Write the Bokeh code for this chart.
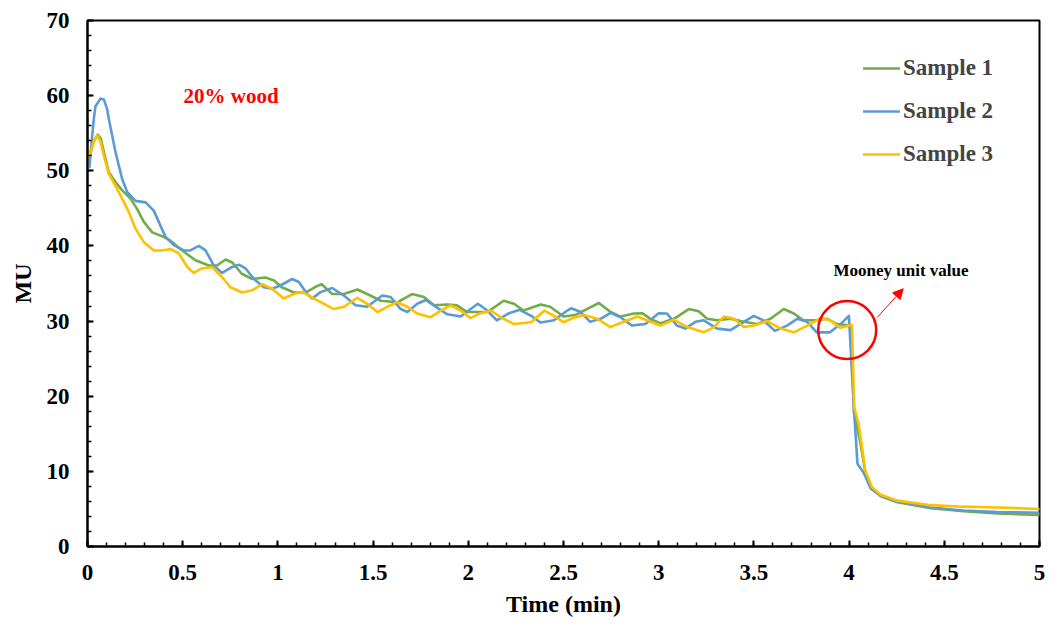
from bokeh.plotting import figure
from bokeh.models import (Range1d, SingleIntervalTicker, NumeralTickFormatter, Legend,
                          LegendItem, Label, Arrow, NormalHead)
from bokeh.embed import file_html
from bokeh.resources import INLINE

# ---------------- data ----------------
t1 = [0.01, 0.035, 0.054, 0.07, 0.086, 0.112, 0.147, 0.182, 0.226, 0.261, 0.296, 0.34, 0.392, 0.436,
      0.497, 0.567, 0.637, 0.68, 0.725, 0.76, 0.81, 0.865, 0.935, 0.98, 1.02, 1.085,
      1.145, 1.20, 1.23, 1.285, 1.346, 1.417, 1.469, 1.54, 1.627, 1.705, 1.767, 1.82,
      1.89, 1.94, 1.994, 2.10, 2.186, 2.24, 2.29, 2.38, 2.43, 2.50, 2.56, 2.607, 2.686,
      2.747, 2.80, 2.87, 2.913, 2.957, 3.01, 3.08, 3.158, 3.21, 3.254, 3.307, 3.377,
      3.447, 3.517, 3.587, 3.657, 3.71, 3.76, 3.83, 3.885, 3.937, 4.007, 4.026, 4.06,
      4.085, 4.12, 4.166, 4.254, 4.43, 4.60, 4.78, 5.0]
s1 = [52.0, 54.0, 54.8, 54.3, 52.5, 49.8, 48.5, 47.4, 46.3, 44.9, 43.2, 41.8, 41.3, 40.7,
      39.4, 38.1, 37.4, 37.4, 38.2, 37.8, 36.3, 35.6, 35.8, 35.4, 34.5, 33.8,
      33.8, 34.6, 34.9, 33.6, 33.6, 34.2, 33.6, 32.7, 32.5, 33.6, 33.2, 32.1,
      32.2, 32.1, 31.2, 31.2, 32.7, 32.3, 31.4, 32.2, 31.9, 30.6, 30.8, 31.4, 32.4,
      31.2, 30.6, 31.0, 31.05, 30.3, 29.7, 30.3, 31.6, 31.3, 30.3, 30.1, 30.3,
      29.9, 29.6, 30.3, 31.6, 31.0, 30.1, 30.1, 30.3, 29.6, 29.4, 17.7, 13.7,
      9.9, 7.7, 6.7, 5.9, 5.1, 4.7, 4.4, 4.2]

t2 = [0.01, 0.033, 0.042, 0.068, 0.086, 0.103, 0.112, 0.147, 0.182, 0.208, 0.252, 0.305, 0.348, 0.383,
      0.41, 0.453, 0.506, 0.54, 0.585, 0.62, 0.663, 0.707, 0.76, 0.795, 0.83, 0.874,
      0.926, 0.97, 1.01, 1.075, 1.11, 1.154, 1.18, 1.224, 1.285, 1.346, 1.408, 1.469,
      1.548, 1.592, 1.645, 1.68, 1.732, 1.776, 1.83, 1.89, 1.96, 2.05, 2.10, 2.15,
      2.21, 2.27, 2.33, 2.38, 2.45, 2.52, 2.54, 2.59, 2.64, 2.695, 2.747, 2.80, 2.86,
      2.93, 3.0, 3.044, 3.096, 3.14, 3.193, 3.237, 3.307, 3.377, 3.447, 3.5, 3.55,
      3.61, 3.674, 3.727, 3.78, 3.83, 3.90, 3.955, 3.999, 4.026, 4.044, 4.079, 4.114,
      4.166, 4.254, 4.43, 4.60, 4.78, 5.0]
s2 = [50.5, 56.9, 58.6, 59.6, 59.5, 58.2, 56.9, 52.5, 48.9, 47.2, 46.0, 45.8, 44.7, 42.7,
      41.2, 40.1, 39.4, 39.4, 40.0, 39.4, 37.4, 36.4, 37.2, 37.5, 37.0, 35.6,
      34.5, 34.3, 34.7, 35.6, 35.2, 33.6, 33.0, 33.85, 34.4, 33.4, 32.1, 31.9,
      33.4, 33.2, 31.6, 31.2, 32.3, 32.8, 31.9, 30.9, 30.6, 32.3, 31.4, 30.1,
      31.0, 31.5, 30.7, 29.8, 30.1, 31.4, 31.7, 31.2, 29.9, 30.3, 31.1, 30.5, 29.4,
      29.6, 31.05, 31.0, 29.4, 29.0, 29.9, 30.1, 29.0, 28.8, 29.9, 30.7, 30.1,
      28.7, 29.4, 30.3, 29.9, 28.5, 28.5, 29.6, 30.7, 18.1, 11.0, 9.7, 7.7,
      6.8, 6.0, 5.2, 4.8, 4.6, 4.5]

t3 = [0.01, 0.035, 0.051, 0.068, 0.086, 0.112, 0.147, 0.182, 0.217, 0.252, 0.296, 0.348, 0.392, 0.436,
      0.48, 0.524, 0.558, 0.60, 0.655, 0.698, 0.751, 0.812, 0.865, 0.917, 0.97, 1.03,
      1.083, 1.128, 1.19, 1.294, 1.346, 1.417, 1.469, 1.522, 1.574, 1.627, 1.68, 1.732,
      1.80, 1.855, 1.907, 1.96, 2.01, 2.066, 2.12, 2.17, 2.24, 2.33, 2.40, 2.45, 2.50,
      2.55, 2.607, 2.677, 2.747, 2.817, 2.887, 2.957, 3.01, 3.08, 3.15, 3.237, 3.29,
      3.342, 3.395, 3.447, 3.5, 3.57, 3.64, 3.71, 3.78, 3.85, 3.90, 3.955, 4.015,
      4.027, 4.05, 4.068, 4.085, 4.12, 4.166, 4.254, 4.43, 4.60, 4.78, 5.0]
s3 = [52.0, 54.0, 54.7, 53.9, 52.0, 49.6, 48.0, 46.3, 44.5, 42.3, 40.5, 39.4, 39.4, 39.6,
      39.0, 37.2, 36.4, 37.0, 37.2, 36.1, 34.5, 33.8, 34.1, 34.9, 34.3, 33.0,
      33.6, 33.9, 33.0, 31.6, 31.9, 33.1, 32.3, 31.2, 31.9, 32.5, 31.9, 31.0,
      30.5, 31.4, 32.1, 31.4, 30.4, 31.05, 31.4, 30.5, 29.6, 29.85, 31.4, 30.7, 29.85,
      30.4, 30.8, 30.3, 29.2, 29.9, 30.6, 29.9, 29.4, 30.2, 29.2, 28.5, 29.2,
      30.6, 30.3, 29.2, 29.4, 30.0, 29.0, 28.5, 29.4, 30.4, 30.1, 29.1, 29.5,
      18.5, 16.3, 13.2, 10.1, 7.9, 6.9, 6.1, 5.5, 5.3, 5.2, 5.0]

series_names = ["Sample 1", "Sample 2", "Sample 3"]
series_colors = ["#70AD47", "#5B9BD5", "#FFC000"]
x_ticks_interval = 0.5
y_ticks_interval = 10

# annotation anchors (data units)
circle_x, circle_y = 3.99, 28.8
arrow_start = (4.148, 30.5)
arrow_end = (4.284, 34.3)
mooney_label_pos = (3.918, 36.7)
wood_label_pos = (0.504, 59.9)

FONT = "Liberation Serif"

p = figure(width=1053, height=630, output_backend="svg", toolbar_location=None,
           x_range=Range1d(0, 5), y_range=Range1d(0, 70),
           min_border_left=87, min_border_right=14, min_border_top=20, min_border_bottom=84)
p.background_fill_color = "white"
p.border_fill_color = "white"
p.xgrid.visible = False
p.ygrid.visible = False
p.outline_line_color = "black"
p.outline_line_width = 2
p.outline_line_alpha = 1

renderers = []
for t, s, c in zip([t1, t2, t3], [s1, s2, s3], series_colors):
    r = p.line(t, s, line_color=c, line_width=2.6, line_join="round", line_cap="round")
    renderers.append(r)

p.xaxis.ticker = SingleIntervalTicker(interval=x_ticks_interval, num_minor_ticks=5)
p.yaxis.ticker = SingleIntervalTicker(interval=y_ticks_interval, num_minor_ticks=5)
p.xaxis.formatter = NumeralTickFormatter(format="0.[0]")

for ax in (p.xaxis[0], p.yaxis[0]):
    ax.axis_line_color = "black"
    ax.axis_line_width = 2
    ax.major_tick_in = 6
    ax.major_tick_out = 0
    ax.minor_tick_in = 4
    ax.minor_tick_out = 0
    ax.major_tick_line_color = "black"
    ax.major_tick_line_width = 2
    ax.minor_tick_line_color = "black"
    ax.minor_tick_line_width = 1.5
    ax.major_label_text_font = FONT
    ax.major_label_text_font_style = "bold"
    ax.major_label_text_font_size = "23px"
    ax.major_label_text_color = "black"
    ax.major_label_standoff = 18
    ax.axis_label_text_font = FONT
    ax.axis_label_text_font_style = "bold"
    ax.axis_label_text_font_size = "24px"
    ax.axis_label_text_color = "black"
    ax.axis_label_standoff = 8

p.xaxis.axis_label = "Time (min)"
p.yaxis.axis_label = "MU"

legend = Legend(items=[LegendItem(label=n, renderers=[r]) for n, r in zip(series_names, renderers)],
                location=(776, 377), border_line_color=None, background_fill_alpha=0,
                label_text_font=FONT, label_text_font_style="bold", label_text_font_size="23px",
                glyph_width=37, glyph_height=30, label_height=30, spacing=13, padding=0,
                margin=0, label_standoff=3)
p.add_layout(legend)

p.scatter([circle_x], [circle_y], marker="circle", size=58, fill_alpha=0,
          line_color="#FF0000", line_width=2.5)
p.add_layout(Arrow(end=NormalHead(size=10, fill_color="#FF0000", line_color="#FF0000"),
                   x_start=arrow_start[0], y_start=arrow_start[1],
                   x_end=arrow_end[0], y_end=arrow_end[1],
                   line_color="#FF0000", line_width=1))

p.add_layout(Label(x=mooney_label_pos[0], y=mooney_label_pos[1], text="Mooney unit value",
                   text_font=FONT, text_font_style="bold", text_font_size="17px",
                   text_color="black", text_baseline="middle", text_align="left"))
p.add_layout(Label(x=wood_label_pos[0], y=wood_label_pos[1], text="20% wood",
                   text_font=FONT, text_font_style="bold", text_font_size="21px",
                   text_color="#FF0000", text_baseline="middle", text_align="left"))

open("out.html", "w").write(file_html(p, INLINE))
